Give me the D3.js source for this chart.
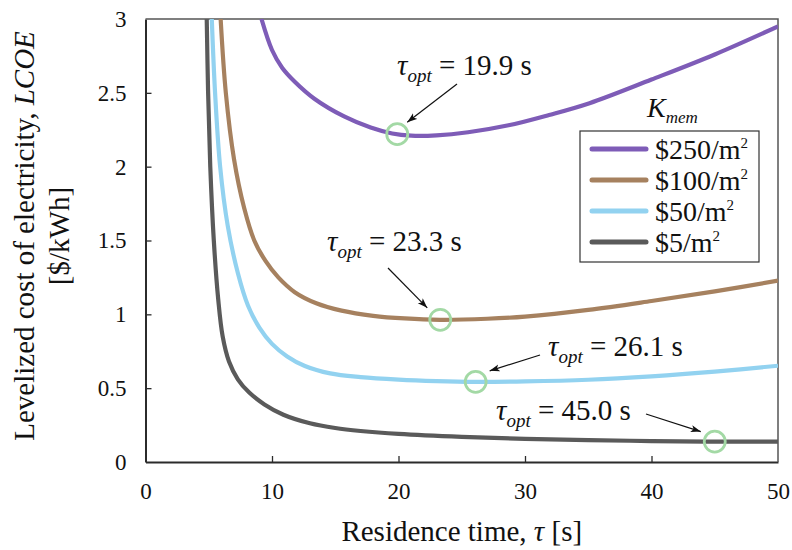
<!DOCTYPE html>
<html>
<head>
<meta charset="utf-8">
<script src="https://cdn.jsdelivr.net/npm/d3@7"></script>
<style>
  html, body { margin: 0; padding: 0; background: #fff; }
  svg { display: block; }
  svg text, svg tspan { font-family: "Liberation Serif", "Times New Roman", Times, serif !important; }
</style>
</head>
<body>
<svg id="chart" width="792" height="550"></svg>
<script>
// Residence time τ [s] and levelized cost of electricity [$/kWh] for each membrane cost
const tau5    = [4.84, 4.95, 5.12, 5.4, 5.75, 6.1, 6.6, 7.3, 8.2, 9.4, 10.9, 13.0, 15.0, 17.0, 20, 25, 30, 35, 40, 45, 50];
const lcoe5   = [3.0, 2.5, 2.0, 1.5, 1.1, 0.85, 0.68, 0.56, 0.47, 0.39, 0.32, 0.262, 0.23, 0.21, 0.19, 0.17, 0.157, 0.148, 0.142, 0.138, 0.138];

const tau50   = [5.24, 5.5, 5.9, 6.5, 7.3, 8.1, 9.0, 10.0, 11.2, 12.6, 14.6, 17.0, 20, 23, 26, 30, 35, 40, 45, 50];
const lcoe50  = [3.0, 2.5, 2.0, 1.6, 1.28, 1.06, 0.91, 0.80, 0.715, 0.65, 0.60, 0.575, 0.558, 0.548, 0.543, 0.546, 0.557, 0.58, 0.612, 0.652];

const tau100  = [5.94, 6.35, 7.0, 7.8, 8.6, 9.5, 10.5, 11.8, 13.5, 15.5, 18, 20.5, 23.3, 27, 30, 35, 40, 45, 50];
const lcoe100 = [3.0, 2.5, 2.05, 1.72, 1.5, 1.36, 1.25, 1.15, 1.075, 1.025, 0.99, 0.972, 0.963, 0.97, 0.985, 1.03, 1.09, 1.155, 1.228];

const tau250  = [9.17, 10.0, 10.8, 11.8, 13.35, 15.7, 17.8, 19.5, 21.0, 23.0, 25.5, 28.7, 31.9, 35.1, 40, 45, 50];
const lcoe250 = [3.0, 2.79, 2.67, 2.575, 2.46, 2.34, 2.265, 2.225, 2.21, 2.212, 2.233, 2.28, 2.35, 2.43, 2.59, 2.76, 2.95];

const seriesNames  = ["$250/m", "$100/m", "$50/m", "$5/m"];
const seriesColors = ["#7e5cb7", "#a6815f", "#92d2f0", "#5a5a5a"];
const seriesTau    = [tau250, tau100, tau50, tau5];
const seriesLcoe   = [lcoe250, lcoe100, lcoe50, lcoe5];

// Optimal residence time on each curve
const optTau  = [19.9, 23.3, 26.1, 45.0];
const optLcoe = [2.22, 0.963, 0.543, 0.138];

const xTicks = [0, 10, 20, 30, 40, 50];
const yTicks = [0, 0.5, 1, 1.5, 2, 2.5, 3];

const SERIF = '"Liberation Serif", "Times New Roman", Times, serif';
const plot = { left: 145.5, right: 778, top: 19, bottom: 462 };
const svg = d3.select("#chart");

const x = d3.scaleLinear().domain([0, 50]).range([plot.left, plot.right]);
const y = d3.scaleLinear().domain([0, 3]).range([plot.bottom, plot.top]);

const defs = svg.append("defs");
defs.append("clipPath").attr("id", "plotClip")
  .append("rect")
  .attr("x", plot.left).attr("y", plot.top)
  .attr("width", plot.right - plot.left).attr("height", plot.bottom - plot.top);

defs.append("marker")
  .attr("id", "arrowHead")
  .attr("viewBox", "0 0 10 8")
  .attr("refX", 10).attr("refY", 4)
  .attr("markerWidth", 10).attr("markerHeight", 8)
  .attr("markerUnits", "userSpaceOnUse")
  .attr("orient", "auto")
  .append("path")
  .attr("d", "M0,0.5 L10,4 L0,7.5 L2.5,4 Z")
  .attr("fill", "#111");

// Axes
const axisColor = "#2b2b2b";
const xAxis = d3.axisBottom(x).tickValues(xTicks).tickFormat(d3.format("d"))
  .tickSizeInner(-6).tickSizeOuter(0).tickPadding(21);
const yAxis = d3.axisLeft(y).tickValues(yTicks).tickFormat(d => String(d))
  .tickSizeInner(-6).tickSizeOuter(0).tickPadding(19);

const gx = svg.append("g").attr("transform", `translate(0,${plot.bottom})`).call(xAxis);
const gy = svg.append("g").attr("transform", `translate(${plot.left},0)`).call(yAxis);
[gx, gy].forEach(g => {
  g.attr("font-family", SERIF).attr("font-size", 23);
  g.select(".domain").attr("stroke", axisColor).attr("stroke-width", 2);
  g.selectAll(".tick line").attr("stroke", axisColor).attr("stroke-width", 1.3);
  g.selectAll(".tick text").attr("fill", "#111");
});
gx.selectAll(".tick line").filter(d => d === 0 || d === 50).remove();
gy.selectAll(".tick line").filter(d => d === 0 || d === 3).remove();

// Top and right frame
svg.append("path")
  .attr("d", `M${plot.left},${plot.top} H${plot.right} V${plot.bottom}`)
  .attr("fill", "none").attr("stroke", "#555").attr("stroke-width", 1.5);

// Curves
const line = d3.line().x(d => x(d[0])).y(d => y(d[1])).curve(d3.curveCatmullRom.alpha(0.5));
const curves = svg.append("g").attr("clip-path", "url(#plotClip)");
[3, 2, 1, 0].forEach(i => {
  const pts = seriesTau[i].map((t, k) => [t, seriesLcoe[i][k]]);
  curves.append("path")
    .attr("d", line(pts))
    .attr("fill", "none")
    .attr("stroke", seriesColors[i])
    .attr("stroke-width", 4.2)
    .attr("stroke-linejoin", "round");
});

// Optimum markers
const optG = svg.append("g");
optTau.forEach((t, i) => {
  optG.append("circle")
    .attr("cx", x(t)).attr("cy", y(optLcoe[i])).attr("r", 10.5)
    .attr("fill", "none").attr("stroke", "#a3d9a5").attr("stroke-width", 2.8);
});

// Annotation labels and arrows
const notes = [
  { lx: 397, ly: 75,  ax: 457, ay: 84,  dx: 10,  dy: -12 },
  { lx: 327, ly: 251, ax: 388, ay: 268, dx: -13, dy: -12 },
  { lx: 548, ly: 356, ax: 540, ay: 355, dx: 14,  dy: -11 },
  { lx: 496, ly: 420, ax: 646, ay: 414, dx: -14, dy: -10 }
];
notes.forEach((n, i) => {
  const cx = x(optTau[i]), cy = y(optLcoe[i]);
  const t = svg.append("text").attr("x", n.lx).attr("y", n.ly)
    .attr("fill", "#111").attr("font-family", SERIF).attr("font-size", 29);
  t.append("tspan").attr("font-style", "italic").text("τ");
  t.append("tspan").attr("font-style", "italic").attr("font-size", 19)
    .attr("dy", 7).text("opt");
  t.append("tspan").attr("dy", -7).text(` = ${optTau[i].toFixed(1)} s`);
  svg.append("line")
    .attr("x1", n.ax).attr("y1", n.ay)
    .attr("x2", cx + n.dx).attr("y2", cy + n.dy)
    .attr("stroke", "#111").attr("stroke-width", 1.2)
    .attr("marker-end", "url(#arrowHead)");
});

// Legend
const lg = svg.append("g");
lg.append("rect").attr("x", 580).attr("y", 131).attr("width", 179).attr("height", 131)
  .attr("fill", "#fff").attr("stroke", "#333").attr("stroke-width", 1.2);
const kt = lg.append("text").attr("x", 647).attr("y", 117).attr("fill", "#111")
  .attr("font-family", SERIF).attr("font-size", 28);
kt.append("tspan").attr("font-style", "italic").text("K");
kt.append("tspan").attr("font-style", "italic").attr("font-size", 17).attr("dy", 6).text("mem");
seriesNames.forEach((name, i) => {
  const cy = 149 + i * 31;
  lg.append("line").attr("x1", 592).attr("x2", 646).attr("y1", cy).attr("y2", cy)
    .attr("stroke", seriesColors[i]).attr("stroke-width", 5).attr("stroke-linecap", "round");
  const tx = lg.append("text").attr("x", 655).attr("y", cy + 10).attr("fill", "#111")
    .attr("font-family", SERIF).attr("font-size", 28);
  tx.append("tspan").text(name);
  tx.append("tspan").attr("font-size", 15).attr("dy", -11).text("2");
});

// Axis titles
const xt = svg.append("text").attr("x", (plot.left + plot.right) / 2).attr("y", 541)
  .attr("text-anchor", "middle").attr("fill", "#111")
  .attr("font-family", SERIF).attr("font-size", 29);
xt.append("tspan").text("Residence time, ");
xt.append("tspan").attr("font-style", "italic").text("τ");
xt.append("tspan").text(" [s]");

const yt = svg.append("text").attr("transform", "translate(34,236) rotate(-90)")
  .attr("text-anchor", "middle").attr("fill", "#111")
  .attr("font-family", SERIF).attr("font-size", 29);
yt.append("tspan").text("Levelized cost of electricity, ");
yt.append("tspan").attr("font-style", "italic").text("LCOE");
svg.append("text").attr("transform", "translate(69,236) rotate(-90)")
  .attr("text-anchor", "middle").attr("fill", "#111")
  .attr("font-family", SERIF).attr("font-size", 29)
  .text("[$/kWh]");
</script>
</body>
</html>
